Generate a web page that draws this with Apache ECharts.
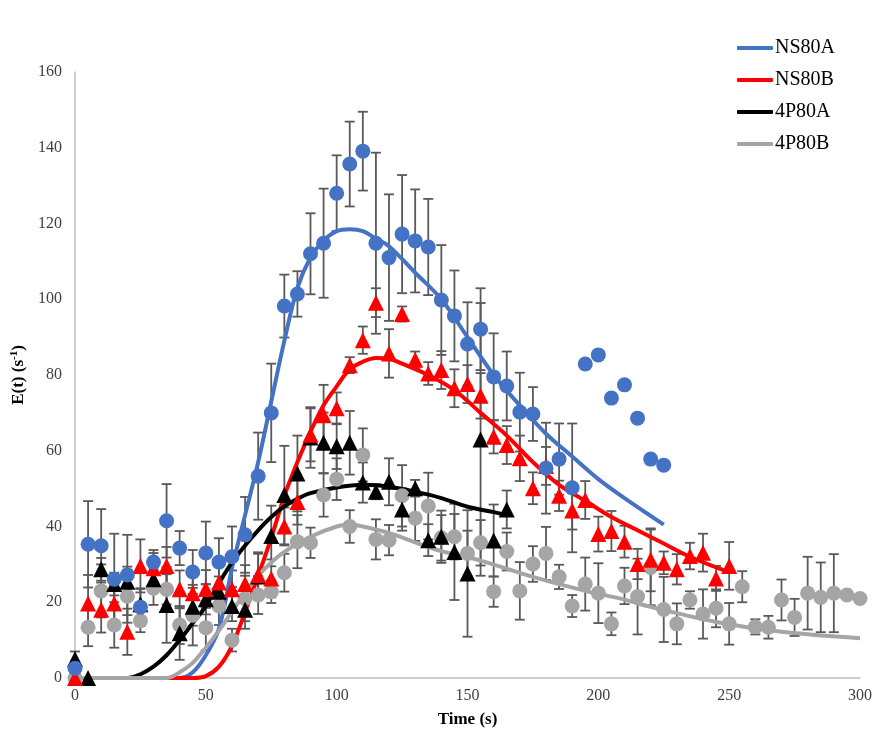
<!DOCTYPE html>
<html>
<head>
<meta charset="utf-8">
<script src="https://cdn.jsdelivr.net/npm/echarts@6/dist/echarts.min.js"></script>
<style>
  html, body { margin: 0; padding: 0; background: #ffffff; }
  #chart { width: 875px; height: 734px; }
</style>
</head>
<body>
<div id="chart"></div>
<script>
// Axis ticks
const xTicks = [0, 50, 100, 150, 200, 250, 300];
const yTicks = [0, 20, 40, 60, 80, 100, 120, 140, 160];

// NS80A measured points (time s, E(t), +/- error)
const ns80aTime = [0, 5, 10, 15, 20, 25, 30, 35, 40, 45, 50, 55, 60, 65, 70, 75, 80, 85, 90, 95, 100, 105, 110, 115, 120, 125, 130, 135, 140, 145, 150, 155, 160, 165, 170, 175, 180, 185, 190, 195, 200, 205, 210, 215, 220, 225];
const ns80aE = [2.6, 35.3, 34.9, 26.1, 27.2, 18.7, 30.6, 41.5, 34.3, 28, 33, 30.6, 32, 37.8, 53.3, 70, 98.2, 101.4, 112, 114.8, 128, 135.7, 139.1, 114.8, 111, 117.2, 115.4, 113.8, 99.8, 95.6, 88.2, 92.1, 79.5, 77.1, 70.2, 69.7, 55.4, 57.8, 50.2, 82.9, 85.3, 73.9, 77.4, 68.6, 57.8, 56.2];
const ns80aErr = [0, 11.4, 9.7, 12, 10.6, 5, 3.2, 9.7, 4.5, 5.8, 8.3, 6.3, 8, 10, 11.5, 13, 8.3, 6, 10.7, 14.4, 10, 11.2, 10.4, 23.9, 16.7, 15.6, 13.6, 12.7, 14.5, 12, 11, 10.8, 11.5, 9.1, 10.4, 7.1, 12, 9.4, 17, 0, 0, 0, 0, 0, 0, 0];

// NS80B measured points
const ns80bTime = [0, 5, 10, 15, 20, 25, 30, 35, 40, 45, 50, 55, 60, 65, 70, 75, 80, 85, 90, 95, 100, 105, 110, 115, 120, 125, 130, 135, 140, 145, 150, 155, 160, 165, 170, 175, 180, 185, 190, 195, 200, 205, 210, 215, 220, 225, 230, 235, 240, 245, 250];
const ns80bE = [0, 19.7, 18, 19.7, 12.2, 29.6, 29, 29.6, 23.4, 22.4, 23.5, 25.2, 23.4, 24.8, 27.2, 26.3, 40, 46.5, 64.2, 69.4, 71.2, 82.6, 89.2, 99.1, 85.7, 96.1, 84, 80.4, 81.3, 76.5, 77.6, 74.5, 63.7, 61.5, 58, 50.1, 56, 48.1, 44.2, 47, 38, 38.8, 36, 30.1, 31.2, 30.4, 28.7, 32.2, 33.1, 26.3, 29.6];
const ns80bErr = [0, 7.5, 6, 6, 6.1, 7, 4, 5, 5, 5, 5, 5, 5, 5, 6, 5, 5, 6, 7, 8, 4.2, 2.1, 3.6, 3.8, 6.4, 2, 2.2, 3, 5, 5, 5, 6, 4.4, 5, 6, 4.2, 5, 4, 5, 5, 4.6, 5.3, 4.2, 4, 8.3, 3, 4, 3.5, 5, 3.3, 6.3];

// 4P80A measured points
const p80aTime = [0, 5, 10, 15, 20, 25, 30, 35, 40, 45, 50, 55, 60, 65, 70, 75, 80, 85, 90, 95, 100, 105, 110, 115, 120, 125, 130, 135, 140, 145, 150, 155, 160, 165];
const p80aE = [5, 0, 28.7, 24.8, 25.4, 19.5, 26.1, 19.3, 11.8, 18.8, 20.8, 22.8, 19, 18, 26.8, 37.5, 48.3, 54, 63.5, 62.1, 61.2, 62.1, 51.6, 49.2, 51.8, 44.5, 50.1, 36.4, 37.3, 33.3, 27.6, 63, 36.3, 44.5];
const p80aErr = [2, 0, 3, 3, 4, 4, 3, 10, 7, 5, 4, 4, 4, 5, 6, 8, 13, 10, 8, 8, 6, 8.4, 5.3, 2, 6.2, 5.6, 2.2, 4.2, 6.9, 12.7, 16.7, 36, 9.5, 5];

// 4P80B measured points
const p80bTime = [0, 5, 10, 15, 20, 25, 30, 35, 40, 45, 50, 55, 60, 65, 70, 75, 80, 85, 90, 95, 100, 105, 110, 115, 120, 125, 130, 135, 140, 145, 150, 155, 160, 165, 170, 175, 180, 185, 190, 195, 200, 205, 210, 215, 220, 225, 230, 235, 240, 245, 250, 255, 260, 265, 270, 275, 280, 285, 290, 295, 300];
const p80bE = [0, 13.4, 23, 14, 21.6, 15.1, 23.7, 23.4, 14, 16.6, 13.3, 19, 10, 21, 21.9, 22.8, 27.8, 36, 35.7, 48.3, 52.5, 40, 58.9, 36.6, 36.4, 48.1, 42.2, 45.4, 37, 37.3, 32.9, 35.7, 22.8, 33.4, 23, 30.1, 32.9, 26.7, 19, 24.8, 22.4, 14.3, 24.3, 21.5, 29.2, 18.1, 14.3, 20.6, 16.9, 18.4, 14.3, 24.1, 13.5, 13.4, 20.6, 16, 22.4, 21.3, 22.4, 21.9, 21];
const p80bErr = [0, 5, 7, 6, 7, 3, 4.4, 4, 5, 8, 6, 5, 3, 6, 5, 3, 5, 7, 4, 5.7, 5.5, 4.3, 7, 5.3, 4, 8.1, 6, 8.8, 6, 6, 6, 6, 4, 5, 7.6, 4.7, 7, 3.2, 2.9, 7, 7.9, 3, 4.8, 10, 10, 8.6, 5.4, 2.3, 6.5, 5, 5.5, 4.1, 2, 3, 5.4, 4.9, 9.6, 9.2, 10.3, 0, 0];

// Fitted E(t) curves
const ns80aFitT = [0, 40, 45, 50, 55, 60, 65, 70, 75, 80, 85, 90, 95, 100, 105, 110, 115, 120, 130, 140, 150, 160, 170, 180, 190, 200, 210, 225];
const ns80aFitE = [0, 0, 1.5, 6, 13, 29, 43, 57, 73, 89, 103, 111, 115.5, 118, 118.5, 118, 116, 114, 107, 100, 90, 80, 72, 64.5, 58.5, 52.5, 47.5, 40.5];
const ns80bFitT = [0, 45, 50, 55, 60, 65, 70, 75, 80, 85, 90, 95, 100, 105, 110, 115, 120, 125, 135, 145, 155, 165, 175, 185, 195, 205, 215, 225, 235, 245, 250];
const ns80bFitE = [0, 0, 0.5, 3, 8.5, 17.5, 27, 37, 48, 57, 65, 72, 77, 81.5, 83.5, 84.5, 84.3, 83, 80, 76, 70, 64, 57, 51, 46.8, 42.5, 39, 35.5, 32, 29.2, 28];
const p80aFitT = [0, 20, 25, 30, 35, 40, 45, 50, 55, 60, 65, 70, 75, 80, 85, 90, 100, 110, 120, 130, 140, 150, 160, 165];
const p80aFitE = [0, 0, 1, 3, 6, 10, 14.5, 19, 25, 30.5, 35, 39, 42.5, 45.3, 47.3, 48.8, 50.3, 51, 50.5, 49.2, 47.5, 45.2, 43.8, 43];
const p80bFitT = [0, 35, 40, 45, 50, 55, 60, 65, 70, 75, 80, 90, 100, 105, 110, 120, 130, 140, 155, 175, 195, 210, 220, 245, 270, 300];
const p80bFitE = [0, 0, 1.5, 4, 8, 12.5, 17.5, 22.5, 27, 30.5, 33.3, 37.3, 40, 40.5, 40, 38.3, 35.8, 33.5, 31, 26.7, 23, 20.7, 18.8, 14.8, 12.2, 10.5];

const serifFont = '"Liberation Serif", "Times New Roman", serif';

function pairs(xs, ys) { return xs.map((x, i) => [x, ys[i]]); }
function bars(xs, ys, es) {
  return xs.map((x, i) => [x, ys[i] - es[i], ys[i] + es[i]]).filter((d, i) => es[i] > 0);
}

// Vertical error bar with end caps, positioned through the axes
function errorBarItem(params, api) {
  const x = api.value(0);
  const lo = api.coord([x, api.value(1)]);
  const hi = api.coord([x, api.value(2)]);
  const half = 5;
  const style = { stroke: '#595959', lineWidth: 1.8, fill: null };
  return {
    type: 'group',
    children: [
      { type: 'line', shape: { x1: lo[0], y1: lo[1], x2: hi[0], y2: hi[1] }, style },
      { type: 'line', shape: { x1: hi[0] - half, y1: hi[1], x2: hi[0] + half, y2: hi[1] }, style },
      { type: 'line', shape: { x1: lo[0] - half, y1: lo[1], x2: lo[0] + half, y2: lo[1] }, style }
    ]
  };
}

const colors = { ns80a: '#4472C4', ns80b: '#FF0000', p80a: '#000000', p80b: '#A5A5A5' };

function errSeries(xs, ys, es) {
  return {
    type: 'custom', renderItem: errorBarItem, data: bars(xs, ys, es),
    encode: { x: 0, y: [1, 2] }, z: 1, silent: true
  };
}
function fitSeries(name, xs, ys, color) {
  return {
    name, type: 'line', data: pairs(xs, ys), smooth: 0.35, showSymbol: false,
    lineStyle: { color, width: 4 }, itemStyle: { color }, z: 2, silent: true
  };
}
function pointSeries(name, xs, ys, color, symbol, z) {
  return {
    name, type: 'scatter', data: pairs(xs, ys), symbol,
    symbolSize: symbol === 'circle' ? 15 : 16,
    itemStyle: { color, opacity: 1 }, z, silent: true
  };
}

const chart = echarts.init(document.getElementById('chart'), null, { renderer: 'canvas' });
chart.setOption({
  animation: false,
  backgroundColor: '#ffffff',
  grid: { left: 75, right: 13, top: 72, bottom: 56, containLabel: false },
  legend: {
    data: ['NS80A', 'NS80B', '4P80A', '4P80B'],
    orient: 'vertical', left: 732, top: 33,
    icon: 'roundRect', itemWidth: 36, itemHeight: 4, itemGap: 12,
    textStyle: { fontFamily: serifFont, fontSize: 20, color: '#000000', lineHeight: 20, padding: [0, 0, 0, -3] }
  },
  xAxis: {
    type: 'value', min: xTicks[0], max: xTicks[xTicks.length - 1], interval: 50,
    axisLine: { show: true, lineStyle: { color: '#BFBFBF', width: 1.5 } },
    axisTick: { show: false }, splitLine: { show: false },
    axisLabel: { fontFamily: serifFont, fontSize: 16, color: '#404040', margin: 10 },
    name: 'Time (s)', nameLocation: 'middle', nameGap: 33,
    nameTextStyle: { fontFamily: serifFont, fontSize: 17, fontWeight: 'bold', color: '#000000' }
  },
  yAxis: {
    type: 'value', min: yTicks[0], max: yTicks[yTicks.length - 1], interval: 20,
    axisLine: { show: true, lineStyle: { color: '#BFBFBF', width: 1.5 } },
    axisTick: { show: false }, splitLine: { show: false },
    axisLabel: { fontFamily: serifFont, fontSize: 16, color: '#404040', margin: 13 },
    name: '{b|E(t) (s}{s|-1}{b|)}', nameLocation: 'middle', nameGap: 42,
    nameTextStyle: {
      rich: {
        b: { fontFamily: serifFont, fontSize: 17, fontWeight: 'bold', color: '#000000', lineHeight: 20 },
        s: { fontFamily: serifFont, fontSize: 11, fontWeight: 'bold', color: '#000000', lineHeight: 20, verticalAlign: 'top' }
      }
    }
  },
  series: [
    errSeries(p80bTime, p80bE, p80bErr),
    errSeries(p80aTime, p80aE, p80aErr),
    errSeries(ns80bTime, ns80bE, ns80bErr),
    errSeries(ns80aTime, ns80aE, ns80aErr),
    fitSeries('NS80A', ns80aFitT, ns80aFitE, colors.ns80a),
    fitSeries('NS80B', ns80bFitT, ns80bFitE, colors.ns80b),
    fitSeries('4P80A', p80aFitT, p80aFitE, colors.p80a),
    fitSeries('4P80B', p80bFitT, p80bFitE, colors.p80b),
    pointSeries('4P80B points', p80bTime, p80bE, colors.p80b, 'circle', 3),
    pointSeries('4P80A points', p80aTime, p80aE, colors.p80a, 'triangle', 4),
    pointSeries('NS80B points', ns80bTime, ns80bE, colors.ns80b, 'triangle', 5),
    pointSeries('NS80A points', ns80aTime, ns80aE, colors.ns80a, 'circle', 6)
  ]
});
</script>
</body>
</html>
